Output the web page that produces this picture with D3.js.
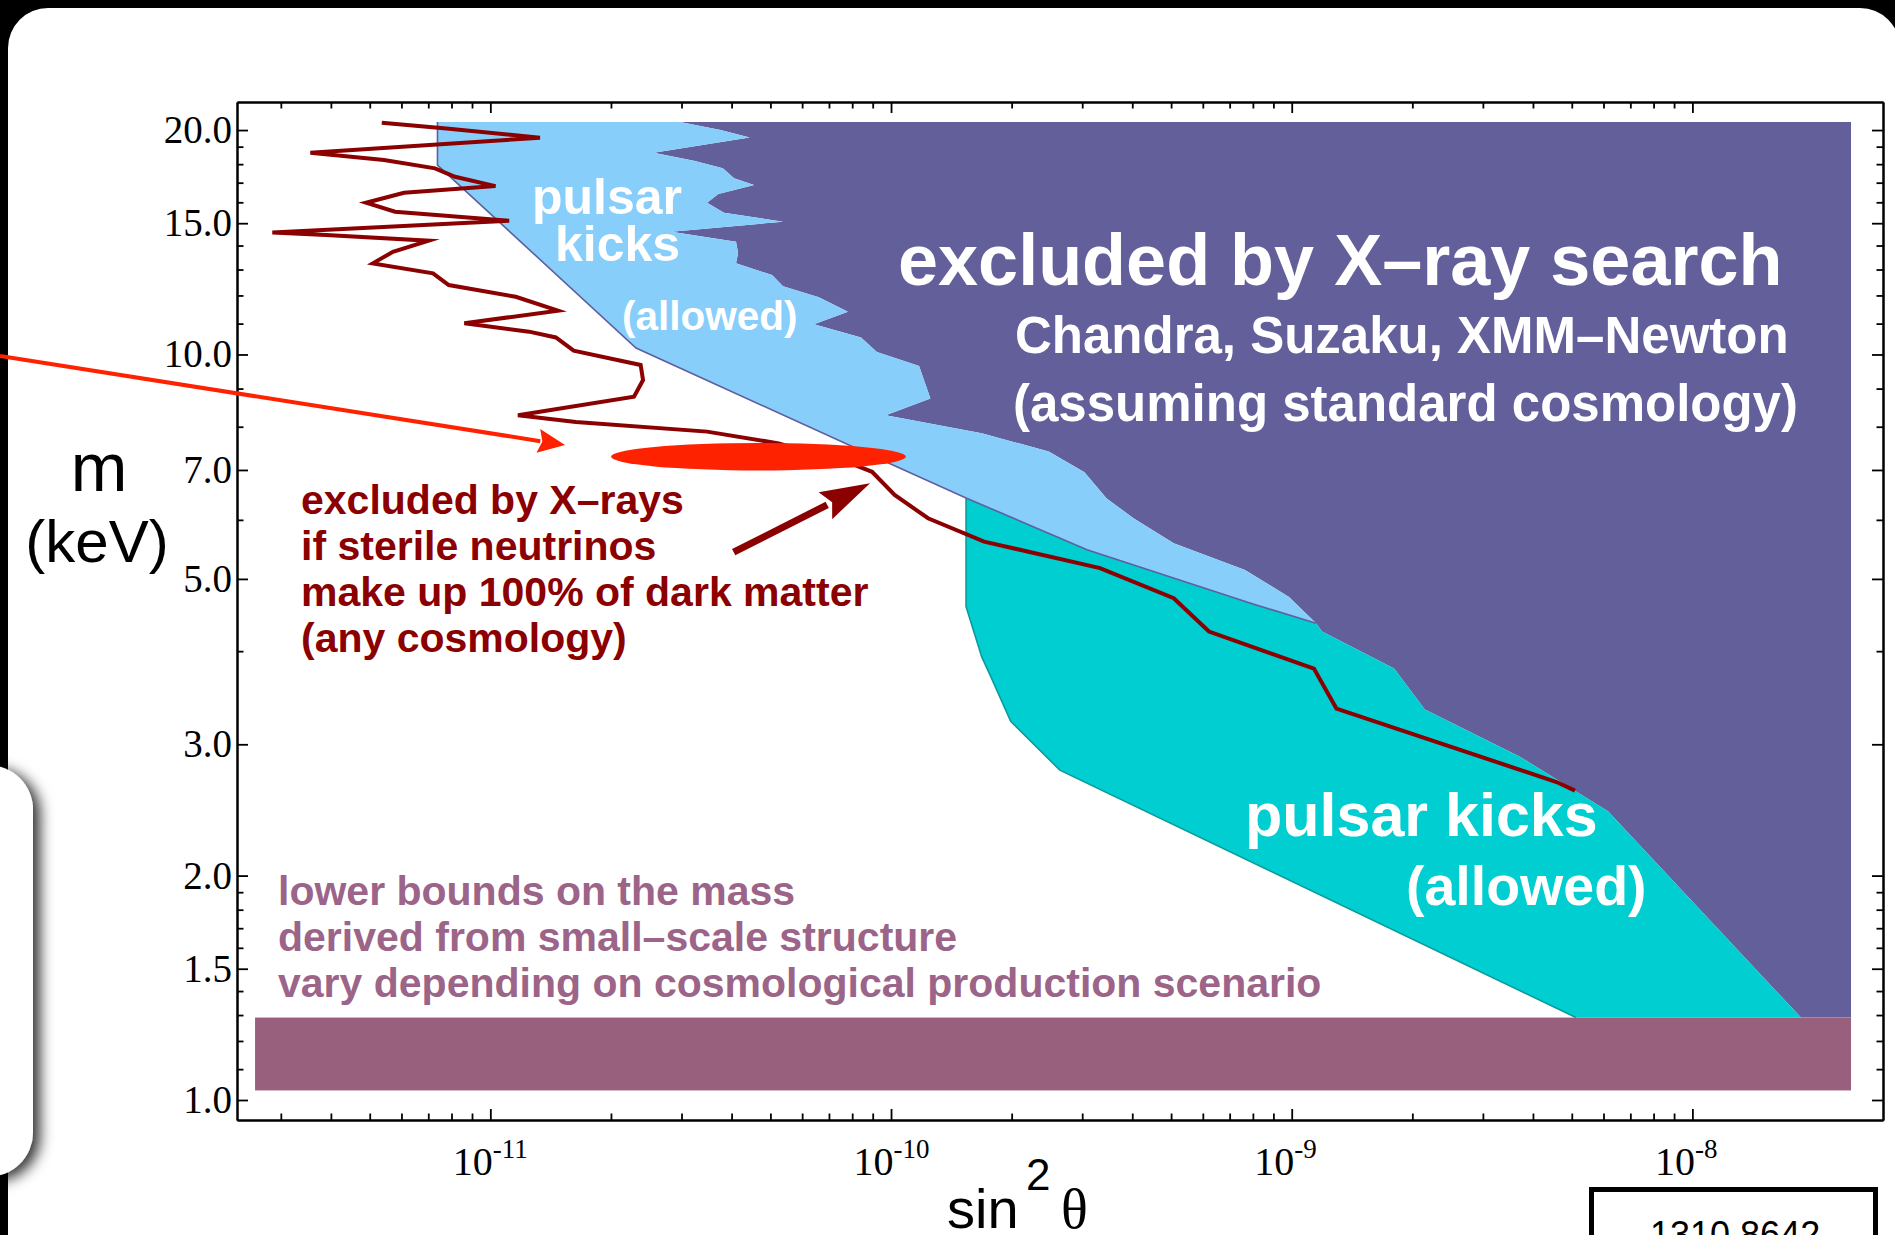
<!DOCTYPE html>
<html><head><meta charset="utf-8">
<script src="https://cdn.jsdelivr.net/npm/d3@7"></script>
<style>body{margin:0;background:#000;overflow:hidden}</style>
</head><body>
<svg id="c" width="1895" height="1235"></svg>
<script>
// ---------- data (sin^2 theta, m in keV) ----------
const yMajor = [1.0, 1.5, 2.0, 3.0, 5.0, 7.0, 10.0, 15.0, 20.0];
const yMinor = [1.1,1.2,1.3,1.4,1.6,1.7,1.8,1.9,4,6,8,9,11,12,13,14,16,17,18,19];
const xMajor = [1e-11, 1e-10, 1e-9, 1e-8];
const xMajorLabels = ["-11", "-10", "-9", "-8"];
const xMinor = [3e-12,4e-12,5e-12,6e-12,7e-12,8e-12,9e-12,
  2e-11,3e-11,4e-11,5e-11,6e-11,7e-11,8e-11,9e-11,
  2e-10,3e-10,4e-10,5e-10,6e-10,7e-10,8e-10,9e-10,
  2e-9,3e-9,4e-9,5e-9,6e-9,7e-9,8e-9,9e-9];

// X-ray exclusion limit (jagged edge), upper part bordering the pulsar-kick (light blue) region
const xrayLimitUpper = [
 [2.974e-11,20.5],[3.754e-11,20.0],[4.437e-11,19.55],[2.556e-11,18.65],[3.221e-11,18.19],
 [3.804e-11,17.77],[4.057e-11,17.23],[4.551e-11,16.88],[3.707e-11,16.41],[3.474e-11,15.98],
 [3.830e-11,15.49],[5.376e-11,15.07],[2.831e-11,14.61],[4.104e-11,14.16],[4.152e-11,13.68],
 [4.104e-11,13.25],[5.047e-11,12.78],[5.376e-11,12.35],[6.604e-11,11.93],[7.804e-11,11.41],
 [6.424e-11,10.98],[8.416e-11,10.54],[9.218e-11,10.08],[1.175e-10,9.65],[1.254e-10,8.73],
 [9.700e-11,8.29],[1.684e-10,7.84],[2.475e-10,7.41],[3.039e-10,6.95],[3.453e-10,6.41],
 [4.029e-10,6.03],[5.076e-10,5.58],[7.646e-10,5.14],[9.846e-10,4.73],[1.150e-9,4.36]
];
// lower part bordering the cyan pulsar-kick region
const xrayLimitLower = [
 [1.190e-9,4.25],[1.801e-9,3.79],[2.149e-9,3.34],[3.701e-9,2.89],[6.157e-9,2.44],[1.866e-8,1.29]
];
const xrayRegionRight = [2.488e-8];
const regionTop = [20.5];

// lower edge of the upper (light blue) pulsar-kick region
const pulsarBlueLowerRight = [[1.150e-9,4.36],[7.867e-10,4.64],[3.084e-10,5.47],[1.539e-10,6.42]];
const pulsarBlueLowerLeft  = [[9.700e-11,7.18],[2.310e-11,10.20],[7.38e-12,17.95],[7.38e-12,20.5]];
// left / lower edge of the cyan pulsar-kick region
const pulsarCyanLeft = [[1.539e-10,4.59],[1.684e-10,3.93],[1.773e-10,3.70],[1.989e-10,3.22],[2.638e-10,2.77],[5.122e-9,1.29]];

// small-scale-structure mass bound band
const bandS = [2.587e-12, 2.488e-8];
const bandM = [1.03, 1.29];

// X-ray limit if sterile neutrinos are 100% of DM (dark red line)
const dmLimit = [
 [5.358e-12,20.46],[7.77e-12,20.10],[1.330e-11,19.53],[3.555e-12,18.65],[5.429e-12,18.23],
 [7.278e-12,17.77],[8.164e-12,17.31],[1.030e-11,16.82],[6.090e-12,16.48],[4.896e-12,15.98],
 [5.783e-12,15.54],[1.114e-11,15.11],[2.857e-12,14.58],[3.890e-12,14.46],[7.015e-12,14.21],
 [5.713e-12,13.73],[5.090e-12,13.25],[7.194e-12,12.85],[7.874e-12,12.39],[1.157e-11,11.95],
 [1.475e-11,11.45],[8.612e-12,11.01],[1.249e-11,10.73],[1.457e-11,10.54],[1.614e-11,10.12],
 [2.372e-11,9.68],[2.405e-11,9.24],[2.283e-11,8.78],[1.172e-11,8.29],[1.635e-11,8.12],
 [3.474e-11,7.88],[5.242e-11,7.60],[8.108e-11,7.11],[8.966e-11,6.96],[1.021e-10,6.48],
 [1.237e-10,6.03],[1.707e-10,5.61],[3.323e-10,5.17],[5.076e-10,4.71],[6.217e-10,4.25],
 [1.136e-9,3.79],[1.293e-9,3.35],[4.580e-9,2.67],[5.093e-9,2.60]
];

// 3.5 keV line signal ellipse (extent)
const signalS = [2.001e-11, 1.089e-10];
const signalM = [6.99, 7.61];

// arrows [tail, tip]
const redArrow = [[5.975e-13, 9.95], [1.536e-11, 7.56]];
const darkArrow = [[4.048e-11, 5.43], [8.864e-11, 6.72]];

// ---------- drawing ----------
const W = 1895, H = 1235;
const SANS = "'Liberation Sans', Arial, Helvetica, sans-serif";
const SERIF = "'Liberation Serif', 'Times New Roman', serif";
const C_PURPLE = "#625f9a", C_BLUE = "#87cefa", C_CYAN = "#00ced1", C_BAND = "#98607c",
      C_DARKRED = "#8b0000", C_RED = "#ff2200", C_MAUVE = "#9b6488";

const svg = d3.select("#c");
const defs = svg.append("defs");
const flt = defs.append("filter").attr("id","sh").attr("x","-50%").attr("y","-20%").attr("width","200%").attr("height","140%");
flt.append("feDropShadow").attr("dx",7).attr("dy",4).attr("stdDeviation",7).attr("flood-color","#000").attr("flood-opacity",0.8);

svg.append("rect").attr("width",W).attr("height",H).attr("fill","#000");
svg.append("rect").attr("x",8).attr("y",8).attr("width",1892).attr("height",1300).attr("rx",40).attr("fill","#fff");
svg.append("rect").attr("x",-60).attr("y",765).attr("width",93).attr("height",412).attr("rx",45).attr("fill","#fff").attr("filter","url(#sh)");

const x = d3.scaleLog().domain([2.332e-12, 2.990e-8]).range([237, 1883]);
const y = d3.scaleLog().domain([0.9401, 21.81]).range([1120, 102]);
const P = d => [x(d[0]), y(d[1])];
const closed = pts => "M" + pts.map(p => P(p).join(",")).join("L") + "Z";
const open = pts => "M" + pts.map(p => P(p).join(",")).join("L");

const g = svg.append("g");

// purple X-ray exclusion
const purplePts = xrayLimitUpper.concat(xrayLimitLower, [[xrayRegionRight[0], bandM[1]], [xrayRegionRight[0], regionTop[0]]]);
g.append("path").attr("d", closed(purplePts)).attr("fill", C_PURPLE);

// cyan pulsar-kick region
const cyanPts = pulsarBlueLowerRight.concat(pulsarCyanLeft, xrayLimitLower.slice().reverse());
g.append("path").attr("d", closed(cyanPts)).attr("fill", C_CYAN);
g.append("path").attr("d", open([pulsarBlueLowerRight[pulsarBlueLowerRight.length-1]].concat(pulsarCyanLeft)))
  .attr("fill","none").attr("stroke","#0a9c9c").attr("stroke-width",1.6);

// light blue pulsar-kick region
const bluePts = xrayLimitUpper.concat(pulsarBlueLowerRight.slice(1), pulsarBlueLowerLeft);
g.append("path").attr("d", closed(bluePts)).attr("fill", C_BLUE);
g.append("path").attr("d", open(pulsarBlueLowerRight.concat(pulsarBlueLowerLeft)))
  .attr("fill","none").attr("stroke","#5f5f9f").attr("stroke-width",1.6);

// mass bound band
g.append("rect").attr("x", x(bandS[0])).attr("y", y(bandM[1]))
  .attr("width", x(bandS[1]) - x(bandS[0])).attr("height", y(bandM[0]) - y(bandM[1])).attr("fill", C_BAND);

// dark red line
g.append("path").attr("d", d3.line().x(d=>x(d[0])).y(d=>y(d[1]))(dmLimit))
  .attr("fill","none").attr("stroke", C_DARKRED).attr("stroke-width",4).attr("stroke-linejoin","miter").attr("stroke-miterlimit",6);

// signal ellipse
g.append("ellipse")
  .attr("cx", (x(signalS[0]) + x(signalS[1]))/2).attr("cy", (y(signalM[0]) + y(signalM[1]))/2)
  .attr("rx", (x(signalS[1]) - x(signalS[0]))/2).attr("ry", (y(signalM[0]) - y(signalM[1]))/2)
  .attr("fill", C_RED);

// ---------- axes ----------
const ax = svg.append("g");
function styleAxis(sel){
  sel.selectAll("path.domain").attr("stroke","#000").attr("stroke-width",2);
  sel.selectAll(".tick line").attr("stroke","#000").attr("stroke-width",1.8);
}
function addAxis(gen, tr){ const s = ax.append("g").attr("transform", tr).call(gen); styleAxis(s); return s; }

// left
addAxis(d3.axisLeft(y).tickValues(yMinor).tickSizeInner(-6.5).tickSizeOuter(0).tickFormat(""), "translate(237,0)");
const yl = addAxis(d3.axisLeft(y).tickValues(yMajor).tickSizeInner(-11).tickSizeOuter(0).tickPadding(5).tickFormat(d3.format(".1f")), "translate(237,0)");
yl.selectAll("text").attr("font-family", SERIF).attr("font-size", 39).attr("fill","#000");
// right
addAxis(d3.axisRight(y).tickValues(yMinor).tickSizeInner(-6.5).tickSizeOuter(0).tickFormat(""), "translate(1883,0)");
addAxis(d3.axisRight(y).tickValues(yMajor).tickSizeInner(-11).tickSizeOuter(0).tickFormat(""), "translate(1883,0)");
// top
addAxis(d3.axisTop(x).tickValues(xMinor).tickSizeInner(-6.5).tickSizeOuter(0).tickFormat(""), "translate(0,102)");
addAxis(d3.axisTop(x).tickValues(xMajor).tickSizeInner(-11).tickSizeOuter(0).tickFormat(""), "translate(0,102)");
// bottom
addAxis(d3.axisBottom(x).tickValues(xMinor).tickSizeInner(-6.5).tickSizeOuter(0).tickFormat(""), "translate(0,1120)");
const xb = addAxis(d3.axisBottom(x).tickValues(xMajor).tickSizeInner(-11).tickSizeOuter(0).tickFormat(""), "translate(0,1120)");
xb.selectAll(".tick").each(function(d, i){
  const t = d3.select(this);
  t.append("text").attr("x", 2).attr("y", 55).attr("text-anchor","end")
    .attr("font-family", SERIF).attr("font-size", 40).attr("fill","#000").text("10");
  t.append("text").attr("x", 2).attr("y", 38).attr("text-anchor","start")
    .attr("font-family", SERIF).attr("font-size", 27).attr("fill","#000").text(xMajorLabels[i]);
});

// axis titles
svg.append("text").attr("x", 99).attr("y", 491).attr("text-anchor","middle")
  .attr("font-family", SANS).attr("font-size", 68).attr("fill","#000").text("m");
svg.append("text").attr("x", 97).attr("y", 562).attr("text-anchor","middle")
  .attr("font-family", SANS).attr("font-size", 60).attr("fill","#000").text("(keV)");
svg.append("text").attr("x", 947).attr("y", 1228).attr("font-family", SANS).attr("font-size", 56).attr("fill","#000").text("sin");
svg.append("text").attr("x", 1026).attr("y", 1190).attr("font-family", SANS).attr("font-size", 44).attr("fill","#000").text("2");
svg.append("text").attr("x", 1061).attr("y", 1228).attr("font-family", SERIF).attr("font-size", 56).attr("fill","#000").text("θ");

// ---------- annotations ----------
function txt(str, px, py, size, color, weight){
  svg.append("text").attr("x", px).attr("y", py).attr("font-family", SANS).attr("font-size", size)
    .attr("font-weight", weight || "bold").attr("fill", color).text(str);
}
txt("pulsar", 532, 214, 50, "#fff");
txt("kicks", 555, 261, 50, "#fff");
txt("(allowed)", 622, 330, 40.5, "#fff");
txt("excluded by X–ray search", 898, 285, 72, "#fff");
txt("Chandra, Suzaku, XMM–Newton", 1015, 353, 51, "#fff");
txt("(assuming standard cosmology)", 1013, 421, 51, "#fff");
txt("pulsar kicks", 1245, 836, 61, "#fff");
txt("(allowed)", 1406, 905, 55.5, "#fff");
txt("excluded by X–rays", 301, 514, 41, C_DARKRED);
txt("if sterile neutrinos", 301, 560, 41, C_DARKRED);
txt("make up 100% of dark matter", 301, 606, 41, C_DARKRED);
txt("(any cosmology)", 301, 652, 41, C_DARKRED);
txt("lower bounds on the mass", 278, 905, 41, C_MAUVE);
txt("derived from small–scale structure", 278, 951, 41, C_MAUVE);
txt("vary depending on cosmological production scenario", 278, 997, 41, C_MAUVE);

// arrows
function arrow(a, color, width, L, w){
  const [x0,y0] = P(a[0]), [x1,y1] = P(a[1]);
  const dx = x1-x0, dy = y1-y0, len = Math.hypot(dx,dy), ux = dx/len, uy = dy/len;
  const bx = x1-ux*L, by = y1-uy*L;
  svg.append("line").attr("x1",x0).attr("y1",y0).attr("x2",bx+ux*2).attr("y2",by+uy*2)
    .attr("stroke",color).attr("stroke-width",width);
  svg.append("path").attr("d", `M${x1},${y1}L${bx-uy*w},${by+ux*w}L${bx+ux*L*0.15},${by+uy*L*0.15}L${bx+uy*w},${by-ux*w}Z`).attr("fill",color);
}
arrow(redArrow, C_RED, 4, 27, 12);
arrow(darkArrow, C_DARKRED, 7, 50, 15);

// reference box
svg.append("rect").attr("x",1591.5).attr("y",1189.5).attr("width",284).attr("height",90)
  .attr("fill","#fff").attr("stroke","#000").attr("stroke-width",5);
svg.append("text").attr("x",1650).attr("y",1247).attr("font-family",SANS).attr("font-size",36).attr("fill","#000").text("1310.8642");
</script>
</body></html>
